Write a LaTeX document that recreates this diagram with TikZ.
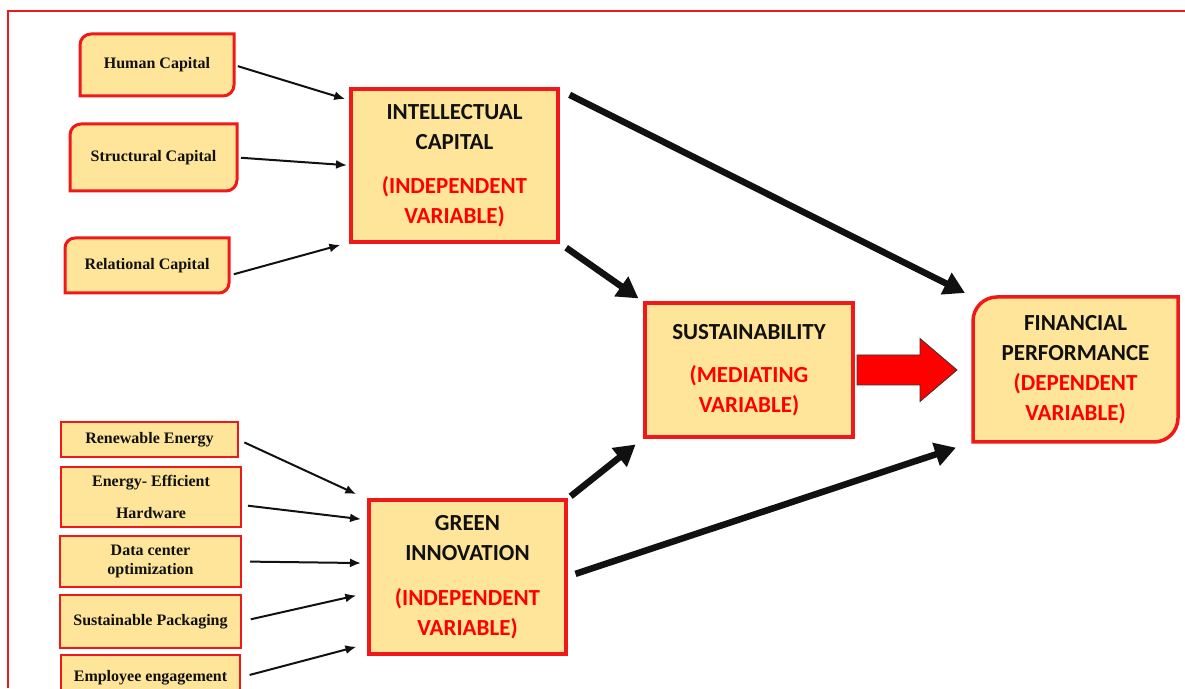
\documentclass[tikz,border=0pt]{standalone}
\usepackage{fontspec}
\setmainfont{Liberation Serif}
\newfontfamily\calibri{Carlito}
\usetikzlibrary{arrows.meta,backgrounds,calc}

\definecolor{boxfill}{RGB}{255,229,153}
\definecolor{boxred}{RGB}{240,24,24}
\definecolor{arrowink}{RGB}{17,17,17}

\tikzstyle{factor}=[rectangle,fill=boxfill,draw=boxred,line width=2pt,text=arrowink,font=\bfseries\fontsize{16}{19}\selectfont,align=center,inner sep=0pt,outer sep=0pt]
\tikzstyle{softfactor}=[rectangle,draw=none,text=arrowink,font=\bfseries\fontsize{16}{19}\selectfont,align=center,inner sep=0pt,outer sep=0pt]
\tikzstyle{construct}=[rectangle,fill=boxfill,draw=boxred,line width=3.5pt,text=arrowink,font=\calibri\bfseries\fontsize{23}{30}\selectfont,align=center,inner sep=0pt,outer sep=0pt]
\tikzstyle{softconstruct}=[rectangle,draw=none,text=arrowink,font=\calibri\bfseries\fontsize{23}{30}\selectfont,align=center,inner sep=0pt,outer sep=0pt]
\tikzstyle{softedge}=[fill=boxfill,draw=boxred,line width=3pt]
\tikzstyle{link}=[-{Latex[length=11pt,width=9pt]},line width=2pt,draw=arrowink]
\tikzstyle{effect}=[-{Triangle[length=21pt,width=23pt]},line width=6.5pt,draw=arrowink]
\tikzstyle{blockarrow}=[fill=red,draw=black!80,line width=0.8pt]

\newcommand{\roundcorners}[3]{%
  \begin{scope}[on background layer]
    \path[softedge,line width=#3] (#1.south west) -- ([yshift=-#2]#1.north west)
      arc[start angle=180,end angle=90,radius=#2] -- (#1.north east)
      -- ([yshift=#2]#1.south east) arc[start angle=0,end angle=-90,radius=#2] -- cycle;
  \end{scope}}
\newcommand{\redline}[1]{\textcolor{red}{#1}}

\begin{document}
\begin{tikzpicture}[x=1pt,y=1pt]
  \useasboundingbox (0,0) rectangle (1185,688);
  \begin{scope}[on background layer]
    \draw[boxred,line width=2pt] (8,0) -- (8,677) -- (1185,677);
  \end{scope}

  \node[softfactor,minimum width=154,minimum height=62] (hc) at (157,623) {Human Capital};
  \node[softfactor,minimum width=167,minimum height=67] (sc) at (153.5,530.5) {Structural Capital};
  \node[softfactor,minimum width=164,minimum height=55] (rc) at (147,422.5) {Relational Capital};
  \roundcorners{hc}{11pt}{3pt}
  \roundcorners{sc}{11pt}{3pt}
  \roundcorners{rc}{10pt}{3pt}

  \node[factor,minimum width=177,minimum height=35] (re) at (149.5,248.5) {Renewable Energy};
  \node[factor,minimum width=180,minimum height=60] (eh) at (151,191) {Energy- Efficient\\[13pt]Hardware};
  \node[factor,minimum width=181,minimum height=51] (dc) at (150.5,126.5) {Data center\\optimization};
  \node[factor,minimum width=181,minimum height=53] (sp) at (150.5,66.5) {Sustainable Packaging};
  \node[factor,minimum width=179,minimum height=45] (ee) at (150.5,10.5) {Employee engagement};

  \node[construct,minimum width=207,minimum height=153] (ic) at (454.5,522.5)
    {INTELLECTUAL\\CAPITAL\\[14pt]\redline{(INDEPENDENT}\\\redline{VARIABLE)}};
  \node[construct,minimum width=197,minimum height=154] (gi) at (467.5,111)
    {GREEN\\INNOVATION\\[15pt]\redline{(INDEPENDENT}\\\redline{VARIABLE)}};
  \node[construct,minimum width=208,minimum height=134] (su) at (749,318)
    {SUSTAINABILITY\\[13pt]\redline{(MEDIATING}\\\redline{VARIABLE)}};
  \node[softconstruct,minimum width=205,minimum height=145] (fp) at (1075.5,318.5)
    {FINANCIAL\\PERFORMANCE\\\redline{(DEPENDENT}\\\redline{VARIABLE)}};
  \roundcorners{fp}{24pt}{3.5pt}

  \draw[link,shorten <=4pt,shorten >=6pt] (hc.east) -- (ic.148);
  \draw[link,shorten <=4pt,shorten >=4pt] (sc.east) -- (ic.west);
  \draw[link,shorten <=5pt,shorten >=11pt] (rc.-7) -- (ic.south west);

  \draw[link,shorten <=7pt,shorten >=14pt] (re.east) -- (gi.north west);
  \draw[link,shorten <=7pt,shorten >=8pt] (eh.-5) -- (gi.150);
  \draw[link,shorten <=9pt,shorten >=8pt] (dc.east) -- (gi.172);
  \draw[link,shorten <=10pt,shorten >=13pt] (sp.east) -- (gi.189);
  \draw[link,shorten <=10pt,shorten >=13pt] (ee.east) -- (gi.214);

  \draw[effect,shorten <=13pt,shorten >=9pt] (ic.north east) -- (fp.north west);
  \draw[effect,shorten <=10pt,shorten >=8pt] (ic.south east) -- (su.north west);
  \draw[effect,shorten <=6pt,shorten >=12pt] (gi.north east) -- (su.south west);
  \draw[effect,shorten <=10pt,shorten >=18pt] (gi.east) -- (fp.south west);

  \draw[blockarrow] ($(su.east)+(4,-15)$) -- ++(63,0) -- ++(0,-16.5) -- ++(37,31.5)
    -- ++(-37,31.5) -- ++(0,-16.5) -- ++(-63,0) -- cycle;
\end{tikzpicture}
\end{document}
